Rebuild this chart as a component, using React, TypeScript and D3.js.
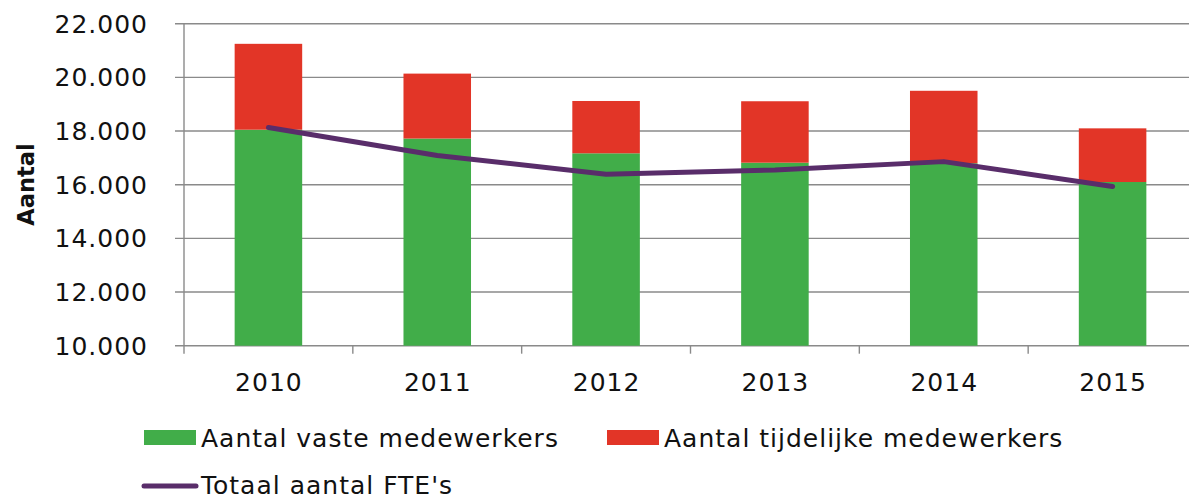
import React, { useEffect, useRef } from 'react';
import * as d3 from 'd3';

const years = ['2010', '2011', '2012', '2013', '2014', '2015'];
const vasteMedewerkers = [18050, 17720, 17170, 16820, 16800, 16100];
const tijdelijkeMedewerkers = [3200, 2420, 1950, 2290, 2700, 2000];
const totaalFte = [18130, 17090, 16390, 16550, 16860, 15930];
const yTicks = [10000, 12000, 14000, 16000, 18000, 20000, 22000];

const GREEN = '#41ad49';
const RED = '#e23527';
const PURPLE = '#592d6a';
const GRID = '#8a8a8a';
const FONT = '"DejaVu Sans", Verdana, sans-serif';

const App: React.FC = () => {
  const svgRef = useRef<SVGSVGElement>(null);

  useEffect(() => {
    document.body.style.margin = '0';
    if (!svgRef.current) return;

    const svg = d3.select(svgRef.current);
    svg.selectAll('*').remove();

    const left = 184;
    const right = 1197;
    const top = 23.7;
    const bottom = 345.7;

    const x = d3.scaleBand<string>().domain(years).range([left, right]).padding(0);
    const y = d3.scaleLinear().domain([10000, 22000]).range([bottom, top]);
    const barW = x.bandwidth() * 0.4;
    const fmt = (v: number) => d3.format(',')(v).replace(/,/g, '.');

    // grid lines + y ticks
    svg.append('g')
      .selectAll('line')
      .data(yTicks)
      .enter()
      .append('line')
      .attr('x1', left - 9)
      .attr('x2', right)
      .attr('y1', d => y(d))
      .attr('y2', d => y(d))
      .style('stroke', GRID)
      .style('stroke-width', 1.4);

    svg.append('g')
      .selectAll('text')
      .data(yTicks)
      .enter()
      .append('text')
      .attr('x', 148)
      .attr('y', d => y(d))
      .attr('dy', '0.36em')
      .attr('text-anchor', 'end')
      .style('font-family', FONT)
      .style('font-size', '25px')
      .style('letter-spacing', '1px')
      .style('fill', '#111')
      .text(d => fmt(d));

    // bars
    const bars = svg.append('g');
    bars.selectAll('.vast')
      .data(years)
      .enter()
      .append('rect')
      .attr('x', d => x(d)! + (x.bandwidth() - barW) / 2)
      .attr('width', barW)
      .attr('y', (d, i) => y(vasteMedewerkers[i]))
      .attr('height', (d, i) => y(10000) - y(vasteMedewerkers[i]))
      .style('fill', GREEN);

    bars.selectAll('.tijd')
      .data(years)
      .enter()
      .append('rect')
      .attr('x', d => x(d)! + (x.bandwidth() - barW) / 2)
      .attr('width', barW)
      .attr('y', (d, i) => y(vasteMedewerkers[i] + tijdelijkeMedewerkers[i]))
      .attr('height', (d, i) => y(vasteMedewerkers[i]) - y(vasteMedewerkers[i] + tijdelijkeMedewerkers[i]))
      .style('fill', RED);

    // axes
    svg.append('line')
      .attr('x1', left).attr('x2', left)
      .attr('y1', top).attr('y2', bottom)
      .style('stroke', GRID).style('stroke-width', 1.4);

    svg.append('g')
      .selectAll('line')
      .data([...years.map(d => x(d)!), right])
      .enter()
      .append('line')
      .attr('x1', d => d).attr('x2', d => d)
      .attr('y1', bottom).attr('y2', bottom + 8)
      .style('stroke', GRID).style('stroke-width', 1.4);

    svg.append('g')
      .selectAll('text')
      .data(years)
      .enter()
      .append('text')
      .attr('x', d => x(d)! + x.bandwidth() / 2 + 0.5)
      .attr('y', 391)
      .attr('text-anchor', 'middle')
      .style('font-family', FONT)
      .style('font-size', '25px')
      .style('letter-spacing', '1px')
      .style('fill', '#111')
      .text(d => d);

    // line
    const line = d3.line<number>()
      .x((d, i) => x(years[i])! + x.bandwidth() / 2)
      .y(d => y(d));

    svg.append('path')
      .attr('d', line(totaalFte))
      .style('fill', 'none')
      .style('stroke', PURPLE)
      .style('stroke-width', 5)
      .style('stroke-linecap', 'round')
      .style('stroke-linejoin', 'round');

    // y title
    svg.append('text')
      .attr('transform', 'translate(34,184.5) rotate(-90)')
      .attr('text-anchor', 'middle')
      .style('font-family', FONT)
      .style('font-weight', 'bold')
      .style('font-size', '22.5px')
      .style('fill', '#111')
      .text('Aantal');

    // legend
    const legend = svg.append('g')
      .style('font-family', FONT)
      .style('font-size', '25px')
      .style('letter-spacing', '1px')
      .style('fill', '#111');
    legend.append('rect').attr('x', 144).attr('y', 430).attr('width', 52).attr('height', 15).style('fill', GREEN);
    legend.append('text').attr('x', 201).attr('y', 446.5).text('Aantal vaste medewerkers');
    legend.append('rect').attr('x', 607).attr('y', 430).attr('width', 52).attr('height', 15).style('fill', RED);
    legend.append('text').attr('x', 664).attr('y', 446.5).text('Aantal tijdelijke medewerkers');
    legend.append('line')
      .attr('x1', 144).attr('x2', 196).attr('y1', 486).attr('y2', 486)
      .style('stroke', PURPLE).style('stroke-width', 5).style('stroke-linecap', 'round');
    legend.append('text').attr('x', 201).attr('y', 494).text("Totaal aantal FTE's");
  }, []);

  return <svg ref={svgRef} width={1189} height={497} style={{ display: 'block' }} />;
};

export default App;
